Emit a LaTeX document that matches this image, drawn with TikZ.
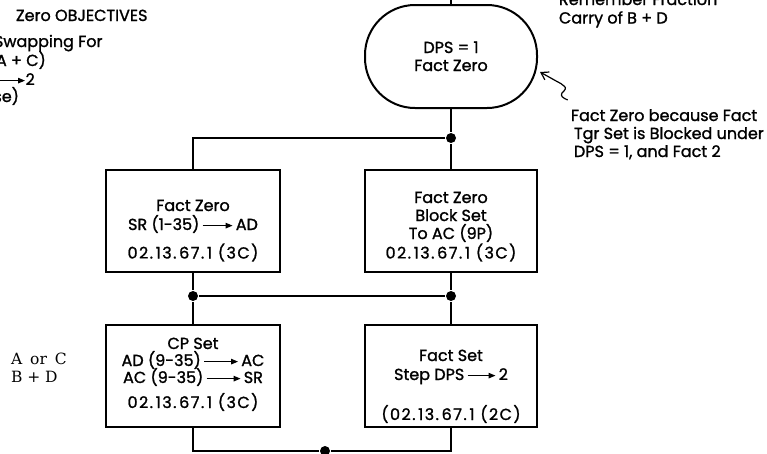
\documentclass[tikz,border=0pt]{standalone}
\usepackage{fontspec}
\newfontfamily\boxfont{Poppins}[FakeBold=1.3]
\newfontfamily\serifnote{DejaVu Serif}
\usetikzlibrary{arrows.meta,calc}
\newcommand\txtarrow[1]{\tikz[baseline=-0.5ex]\draw[line width=1.1pt,-{Triangle[length=7pt,width=5.5pt]}] (0pt,0pt)--(#1,0pt);}
\newcommand\numtxt[1]{{\addfontfeature{LetterSpace=9}#1}}
\begin{document}
\begin{tikzpicture}[x=1pt,y=-1pt,line width=2pt,
  txt/.style={font=\boxfont\fontsize{16}{19}\selectfont,inner sep=0pt,anchor=base},
  stxt/.style={font=\serifnote\fontsize{15.5}{19}\selectfont,inner sep=0pt,anchor=base west},
  procbox/.style={draw,minimum width=174pt,minimum height=102pt,inner sep=0pt},
  termbox/.style={draw,rounded corners=50pt,minimum width=172pt,minimum height=103pt,inner sep=0pt},
  dot/.style={circle,fill,inner sep=0pt,minimum size=10pt},
  annarrow/.style={line width=1.2pt,-{Straight Barb[length=7pt,width=9pt]}}]
\clip (0,0) rectangle (767,453);
% shapes
\node[termbox] (e) at (451,56.5) {};
\node[procbox] (b1) at (193,221) {};
\node[procbox,minimum width=172pt] (b2) at (451,221) {};
\node[procbox] (b3) at (193,376) {};
\node[procbox,minimum width=172pt] (b4) at (451,376) {};
% junctions
\coordinate (top) at (451,-5);
\node[dot] (j1) at (451,138) {};
\node[dot] (j2) at (193,296) {};
\node[dot] (j3) at (451,296) {};
\node[dot] (j4) at (325,451) {};
% connectors
\draw (top) -- (e.north);
\draw (e.south) -- (j1);
\draw (j1) -- (b2.north);
\draw (j1) -| (b1.north);
\draw (b1.south) -- (j2);
\draw (b2.south) -- (j3);
\draw (j2) -- (j3);
\draw (j2) -- (b3.north);
\draw (j3) -- (b4.north);
\draw (b3.south) |- (j4);
\draw (b4.south) |- (j4);
% terminal text
\node[txt] (e1) at (451,53) {DPS = 1};
\node[txt] (e2) at (451,71) {Fact Zero};
% box 1
\node[txt] (b1a) at (193,211) {Fact Zero};
\node[txt] (b1b) at (193,230) {SR (1-35)\,\txtarrow{30pt}\,AD};
\node[txt] (b1c) at (193,258.5) {\numtxt{02.\,13.\,67.\,1 (3C)}};
% box 2
\node[txt] (b2a) at (451,203) {Fact Zero};
\node[txt] (b2b) at (451,221) {Block Set};
\node[txt] (b2c) at (451,239) {To AC (9P)};
\node[txt] (b2d) at (451,258.5) {\numtxt{02.\,13.\,67.\,1 (3C)}};
% box 3
\node[txt] (b3a) at (193,349) {CP Set};
\node[txt] (b3b) at (193,366) {AD (9-35)\,\txtarrow{34pt}\,AC};
\node[txt] (b3c) at (193,383) {AC (9-35)\,\txtarrow{34pt}\,SR};
\node[txt] (b3d) at (193,408) {\numtxt{02.\,13.\,67.\,1 (3C)}};
% box 4
\node[txt] (b4a) at (451,361) {Fact Set};
\node[txt] (b4b) at (451,380) {Step DPS\,\txtarrow{28pt}\,2};
\node[txt] (b4c) at (451,420) {\numtxt{(02.\,13.\,67.\,1 (2C)}};
% top left notes
\node[txt,anchor=base west] (n1) at (15,21) {Zero OBJECTIVES};
\node[txt,anchor=base west] (n2) at (-7,47) {Swapping For};
\node[txt,anchor=base west] (n3) at (-5,66) {A + C)};
\node[txt,anchor=base east] (n4) at (35,85) {\txtarrow{40pt}2};
\node[txt,anchor=base east] (n5) at (20,102) {se)};
% right notes
\node[txt,anchor=base west] (r1) at (558,5) {Remember Fraction};
\node[txt,anchor=base west] (r2) at (558,23.5) {Carry of B + D};
\node[txt,anchor=base west] (a1) at (570,121) {Fact Zero because Fact};
\node[txt,anchor=base west] (a2) at (573,139) {Tgr Set is Blocked under};
\node[txt,anchor=base west] (a3) at (573,157) {DPS = 1, and Fact 2};
\coordinate (atail) at (567.7,100);
\coordinate (atip) at (540,72);
\draw[annarrow] (atail) .. controls (563,98) and (560,96) .. (562,93)
  .. controls (565,90) and (567,88) .. (564,86)
  .. controls (562,84) and (560,83) .. (557,81.5) -- (atip);
% left serif notes
\node[stxt] (s1) at (10,364) {A\hspace{8pt}or\hspace{8pt}C};
\node[stxt] (s2) at (10,382) {B + D};
\end{tikzpicture}
\end{document}
